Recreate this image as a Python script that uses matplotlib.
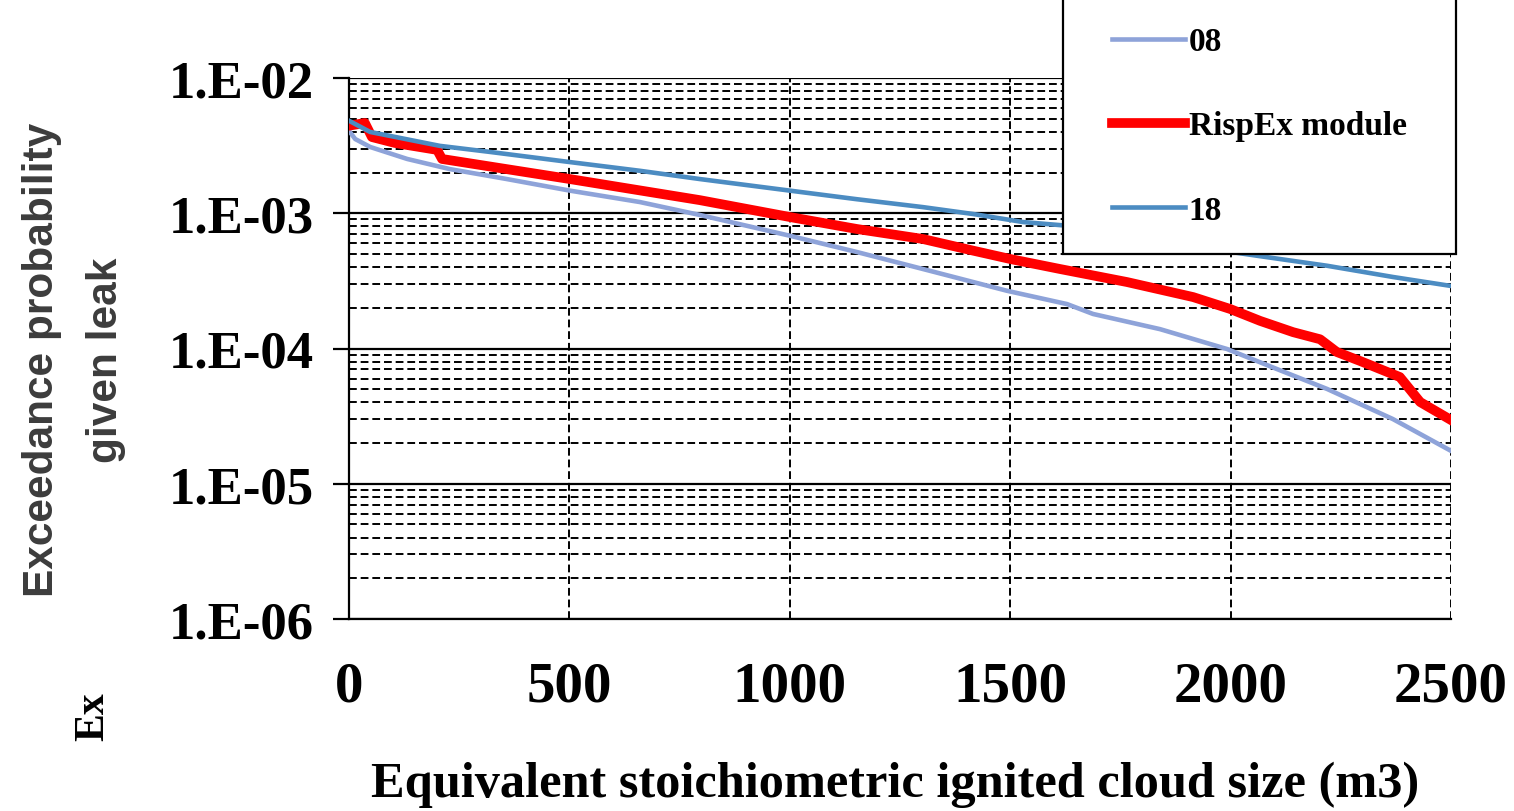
import matplotlib
matplotlib.use("Agg")
import matplotlib.pyplot as plt
import numpy as np
from matplotlib.ticker import LogLocator, FuncFormatter, MultipleLocator
from matplotlib.patches import Rectangle

# Data (x: cloud size m3, y: exceedance probability)
x_08 = [0, 14, 48, 132, 229, 358, 501, 660, 796, 1000, 1152, 1302, 1493, 1629,
        1688, 1840, 1992, 2105, 2219, 2368, 2500]
p_08 = [4.07e-3, 3.54e-3, 3.09e-3, 2.52e-3, 2.12e-3, 1.79e-3, 1.47e-3, 1.21e-3,
        9.71e-4, 6.82e-4, 5.17e-4, 3.87e-4, 2.67e-4, 2.13e-4, 1.80e-4, 1.39e-4,
        9.91e-5, 7.05e-5, 5.02e-5, 3.01e-5, 1.75e-5]

x_risp = [0, 36, 52, 104, 200, 211, 501, 796, 1000, 1152, 1302, 1416, 1500, 1613,
          1765, 1915, 1999, 2067, 2142, 2203, 2241, 2294, 2384, 2430, 2500]
p_risp = [4.44e-3, 4.65e-3, 3.66e-3, 3.31e-3, 2.94e-3, 2.52e-3, 1.79e-3, 1.25e-3,
          9.38e-4, 7.65e-4, 6.45e-4, 5.29e-4, 4.59e-4, 3.87e-4, 3.10e-4, 2.40e-4,
          1.96e-4, 1.60e-4, 1.32e-4, 1.17e-4, 9.42e-5, 8.08e-5, 6.15e-5, 4.02e-5,
          2.96e-5]

x_18 = [0, 48, 206, 320, 501, 660, 796, 1000, 1152, 1302, 1416, 1529, 1629, 1772,
        1908, 2060, 2219, 2368, 2500]
p_18 = [4.83e-3, 3.99e-3, 3.15e-3, 2.84e-3, 2.39e-3, 2.06e-3, 1.79e-3, 1.47e-3,
        1.27e-3, 1.11e-3, 9.87e-4, 8.61e-4, 8.09e-4, 6.79e-4, 5.73e-4, 4.85e-4,
        4.09e-4, 3.38e-4, 2.90e-4]

labels = ['08', 'RispEx module', '18']
colors = ['#8EA3D9', '#FF0000', '#4C8CC2']

W, H = 1514, 812
fig = plt.figure(figsize=(W / 100, H / 100), dpi=100)
ax = fig.add_axes([349 / W, 1 - 620 / H, (1451 - 349) / W, (620 - 79) / H])

ln1, = ax.plot(x_08, p_08, color=colors[0], lw=3.3, solid_joinstyle='round', zorder=3)
ln2, = ax.plot(x_risp, p_risp, color=colors[1], lw=7, solid_joinstyle='round', zorder=3)
ln3, = ax.plot(x_18, p_18, color=colors[2], lw=3.3, solid_joinstyle='round', zorder=3)

ax.set_yscale('log')
ax.set_ylim(1e-6, 1e-2)
ax.set_xlim(0, 2500)
ax.xaxis.set_major_locator(MultipleLocator(500))
ax.yaxis.set_major_locator(LogLocator(base=10, numticks=10))
ax.yaxis.set_minor_locator(LogLocator(base=10, subs=np.arange(2, 10), numticks=10))
ax.yaxis.set_major_formatter(FuncFormatter(lambda v, p: "1.E-%02d" % int(round(-np.log10(v)))))

ax.grid(True, which='major', axis='y', color='black', lw=1.6, ls='-')
ax.grid(True, which='minor', axis='y', color='black', lw=1.4, ls=(0, (4, 2)))
ax.grid(True, which='major', axis='x', color='black', lw=1.4, ls=(0, (4, 2)))

for s in ['top', 'right']:
    ax.spines[s].set_visible(False)
for s in ['left', 'bottom']:
    ax.spines[s].set_linewidth(1.6)
    ax.spines[s].set_color('black')

serif = 'Liberation Serif'
ax.tick_params(axis='y', which='major', length=11.5, width=1.6, pad=14,
               labelsize=38)
ax.tick_params(axis='y', which='minor', length=0)
ax.tick_params(axis='x', length=0, pad=30, labelsize=41)
for t in ax.get_xticklabels() + ax.get_yticklabels():
    t.set_fontfamily(serif)
    t.set_fontweight('bold')

fig.text(895 / W, 1 - 785 / H, 'Equivalent stoichiometric ignited cloud size (m3)',
         ha='center', va='center', family=serif, weight='bold', fontsize=36.3)
fig.text(74 / W, 1 - 360 / H, 'Exceedance probability\ngiven leak', rotation=90,
         ha='center', va='center', multialignment='center', linespacing=1.8,
         family='Liberation Sans', weight='bold', fontsize=30.5, color='#3c3c3c')
fig.text(93 / W, 1 - 717 / H, 'Ex', rotation=90, ha='center', va='center',
         family=serif, weight='bold', fontsize=30)

# legend box (runs off the top of the figure like the reference)
rect = Rectangle((1063 / W, 1 - 255 / H), 393 / W, 0.4, transform=fig.transFigure,
                 facecolor='white', edgecolor='black', lw=1.6, zorder=4)
fig.add_artist(rect)
fig.legend([ln1, ln2, ln3], labels, loc='center',
           bbox_to_anchor=(1259.5 / W, 1 - 127 / H), frameon=False, borderpad=0,
           handlelength=2.2, handletextpad=0.1, labelspacing=1.6,
           prop=dict(family=serif, weight='bold', size=24))

fig.savefig('out.png', dpi=100)
